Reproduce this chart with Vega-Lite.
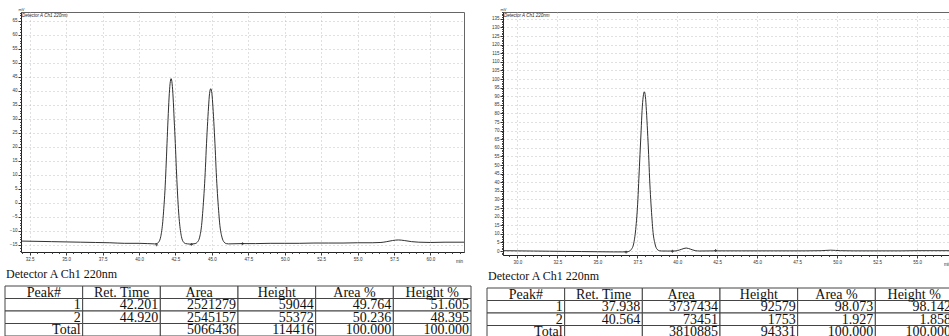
{
  "$schema": "https://vega.github.io/schema/vega-lite/v6.json",
  "background": "white",
  "padding": {"top": 6, "left": 4, "right": 0, "bottom": 0},
  "config": {
    "view": {"stroke": "#666", "strokeWidth": 1},
    "font": "Liberation Sans",
    "axis": {"labelFont": "Liberation Sans", "titleFont": "Liberation Sans"}
  },
  "spacing": 14,
  "hconcat": [
    {
      "spacing": 4,
      "vconcat": [
        {
          "width": 443,
          "height": 240,
          "layer": [
            {
              "data": {"values": [
                {"t":31.9,"mv":-13.6},{"t":33,"mv":-13.7},{"t":34,"mv":-13.8},{"t":35,"mv":-13.9},{"t":36,"mv":-14.0},{"t":37,"mv":-14.1},{"t":38,"mv":-14.2},{"t":39,"mv":-14.4},{"t":40,"mv":-14.4},{"t":40.6,"mv":-14.5},
                {"t":41.07,"mv":-14.6},{"t":41.21,"mv":-14.5},{"t":41.35,"mv":-13.95},{"t":41.49,"mv":-12.0},{"t":41.63,"mv":-6.6},{"t":41.70,"mv":-1.9},{"t":41.78,"mv":4.6},{"t":41.85,"mv":12.4},{"t":41.92,"mv":21.2},{"t":41.99,"mv":29.9},{"t":42.06,"mv":37.5},{"t":42.13,"mv":42.6},{"t":42.20,"mv":44.4},{"t":42.27,"mv":42.6},{"t":42.34,"mv":37.5},{"t":42.41,"mv":29.9},{"t":42.49,"mv":21.2},{"t":42.56,"mv":12.4},{"t":42.63,"mv":4.6},{"t":42.70,"mv":-1.9},{"t":42.77,"mv":-6.6},{"t":42.91,"mv":-12.0},{"t":43.05,"mv":-13.95},{"t":43.20,"mv":-14.5},{"t":43.34,"mv":-14.6},{"t":43.55,"mv":-14.7},
                {"t":43.70,"mv":-14.6},{"t":43.85,"mv":-14.5},{"t":44.00,"mv":-14.0},{"t":44.16,"mv":-12.2},{"t":44.31,"mv":-7.1},{"t":44.38,"mv":-2.6},{"t":44.46,"mv":3.4},{"t":44.54,"mv":10.8},{"t":44.61,"mv":19.0},{"t":44.69,"mv":27.2},{"t":44.77,"mv":34.3},{"t":44.84,"mv":39.1},{"t":44.92,"mv":40.8},{"t":45.00,"mv":39.1},{"t":45.07,"mv":34.3},{"t":45.15,"mv":27.2},{"t":45.23,"mv":19.0},{"t":45.30,"mv":10.8},{"t":45.38,"mv":3.4},{"t":45.46,"mv":-2.6},{"t":45.53,"mv":-7.1},{"t":45.69,"mv":-12.2},{"t":45.84,"mv":-14.0},{"t":45.99,"mv":-14.5},{"t":46.14,"mv":-14.6},
                {"t":47,"mv":-14.5},{"t":48,"mv":-14.5},{"t":49,"mv":-14.4},{"t":50,"mv":-14.4},{"t":51,"mv":-14.4},{"t":52,"mv":-14.3},{"t":53,"mv":-14.3},{"t":54,"mv":-14.3},{"t":55,"mv":-14.2},{"t":56,"mv":-14.2},{"t":56.6,"mv":-14.1},{"t":57.0,"mv":-13.8},{"t":57.4,"mv":-13.4},{"t":57.8,"mv":-13.2},{"t":58.2,"mv":-13.4},{"t":58.7,"mv":-13.8},{"t":59.2,"mv":-14.0},{"t":60,"mv":-14.1},{"t":61,"mv":-14.0},{"t":62.3,"mv":-14.0}
              ]},
              "mark": {"type": "line", "color": "#1a1a1a", "strokeWidth": 0.9, "interpolate": "monotone", "clip": true},
              "encoding": {
                "x": {"field": "t", "type": "quantitative", "scale": {"domain": [31.9, 62.3], "nice": false, "zero": false},
                  "axis": {"values": [32.5,35,37.5,40,42.5,45,47.5,50,52.5,55,57.5,60], "format": ".1f", "labelFontSize": 4.5, "labelColor": "#333", "tickSize": 3, "tickColor": "#333", "labelPadding": 1, "domainColor": "#222", "grid": true, "gridColor": "#b0b0b0", "gridDash": [1, 3], "gridWidth": 0.8, "title": "min", "titleFontSize": 4.5, "titleFontWeight": "normal", "titleX": 438, "titleY": 10, "titleBaseline": "alphabetic", "titleColor": "#333"}},
                "y": {"field": "mv", "type": "quantitative", "scale": {"domain": [-17.5, 68.2], "nice": false, "zero": false},
                  "axis": {"values": [-15,-10,-5,0,5,10,15,20,25,30,35,40,45,50,55,60,65], "format": "d", "labelFontSize": 4.5, "labelColor": "#333", "tickSize": 3, "tickColor": "#333", "labelPadding": 1, "domainColor": "#222", "grid": true, "gridColor": "#b0b0b0", "gridDash": [1, 3], "gridWidth": 0.8, "title": "mV", "titleAngle": 0, "titleFontSize": 4, "titleFontWeight": "normal", "titleAlign": "left", "titleBaseline": "bottom", "titleX": -3, "titleY": -1, "titleColor": "#333", "minExtent": 16}}
              }
            },
            {
              "data": {"values": [{"t":41.2,"mv":-14.9},{"t":43.6,"mv":-14.8},{"t":47.1,"mv":-14.5}]},
              "mark": {"type": "point", "shape": "cross", "size": 8, "filled": true, "color": "#222"},
              "encoding": {
                "x": {"field": "t", "type": "quantitative", "axis": {"orient": "bottom", "values": [32,32.5,33,33.5,34,34.5,35,35.5,36,36.5,37,37.5,38,38.5,39,39.5,40,40.5,41,41.5,42,42.5,43,43.5,44,44.5,45,45.5,46,46.5,47,47.5,48,48.5,49,49.5,50,50.5,51,51.5,52,52.5,53,53.5,54,54.5,55,55.5,56,56.5,57,57.5,58,58.5,59,59.5,60,60.5,61,61.5,62], "labels": false, "grid": false, "domain": false, "tickSize": 1.5, "tickColor": "#444", "title": null}},
                "y": {"field": "mv", "type": "quantitative", "axis": {"orient": "left", "values": [-17,-16,-15,-14,-13,-12,-11,-10,-9,-8,-7,-6,-5,-4,-3,-2,-1,0,1,2,3,4,5,6,7,8,9,10,11,12,13,14,15,16,17,18,19,20,21,22,23,24,25,26,27,28,29,30,31,32,33,34,35,36,37,38,39,40,41,42,43,44,45,46,47,48,49,50,51,52,53,54,55,56,57,58,59,60,61,62,63,64,65,66,67,68], "labels": false, "grid": false, "domain": false, "tickSize": 1.5, "tickColor": "#444", "title": null}}
              }
            },
            {
              "data": {"values": [{"label": "Detector A Ch1 220nm"}]},
              "mark": {"type": "text", "fontSize": 4.5, "fontStyle": "italic", "color": "#222", "align": "left", "baseline": "top", "dx": 1, "dy": 1},
              "encoding": {
                "x": {"datum": 31.9, "type": "quantitative", "axis": null},
                "y": {"datum": 68.2, "type": "quantitative", "axis": null},
                "text": {"field": "label"}
              }
            }
          ],
          "resolve": {"axis": {"x": "independent", "y": "independent"}}
        },
        {
          "width": 450,
          "height": 50,
          "view": {"stroke": null},
          "title": {"text": "Detector A Ch1 220nm", "anchor": "start", "frame": "group", "dx": -15, "font": "Liberation Serif", "fontSize": 12, "fontWeight": "normal", "offset": 5, "color": "#111"},
          "data": {"values": [
            {"row":"h","peak":"Peak#","rt":"Ret. Time","area":"Area","height":"Height","apct":"Area %","hpct":"Height %"},
            {"row":"1","peak":"1","rt":"42.201","area":"2521279","height":"59044","apct":"49.764","hpct":"51.605"},
            {"row":"2","peak":"2","rt":"44.920","area":"2545157","height":"55372","apct":"50.236","hpct":"48.395"},
            {"row":"t","peak":"Total","rt":"","area":"5066436","height":"114416","apct":"100.000","hpct":"100.000"}
          ]},
          "transform": [{"fold": ["peak","rt","area","height","apct","hpct"], "as": ["col","val"]}],
          "layer": [
            {
              "mark": {"type": "rect", "fill": "white", "stroke": "#444", "strokeWidth": 1},
              "encoding": {
                "x": {"field": "col", "type": "nominal", "scale": {"domain": ["peak","rt","area","height","apct","hpct"], "range": [-16, 450], "paddingInner": 0, "paddingOuter": 0}, "axis": null},
                "y": {"field": "row", "type": "nominal", "scale": {"domain": ["h","1","2","t"], "paddingInner": 0, "paddingOuter": 0}, "axis": null}
              }
            },
            {
              "transform": [{"filter": "datum.row == 'h'"}],
              "mark": {"type": "text", "font": "Liberation Serif", "fontSize": 14, "align": "center", "baseline": "alphabetic", "color": "#111", "dy": 4.6},
              "encoding": {
                "x": {"field": "col", "type": "nominal", "axis": null},
                "y": {"field": "row", "type": "nominal", "axis": null},
                "text": {"field": "val"}
              }
            },
            {
              "transform": [{"filter": "datum.row != 'h'"}],
              "mark": {"type": "text", "font": "Liberation Serif", "fontSize": 14, "align": "right", "baseline": "alphabetic", "color": "#111", "dx": -2, "dy": 4.6},
              "encoding": {
                "x": {"field": "col", "type": "nominal", "bandPosition": 1, "axis": null},
                "y": {"field": "row", "type": "nominal", "axis": null},
                "text": {"field": "val"}
              }
            }
          ]
        }
      ]
    },
    {
      "spacing": 3,
      "vconcat": [
        {
          "width": 450,
          "height": 243,
          "layer": [
            {
              "data": {"values": [
                {"t":29.1,"mv":0.2},{"t":30,"mv":0.1},{"t":31,"mv":0.0},{"t":32,"mv":-0.1},{"t":33,"mv":-0.2},{"t":34,"mv":-0.3},{"t":35,"mv":-0.4},{"t":36,"mv":-0.5},{"t":36.6,"mv":-0.5},{"t":36.87,"mv":-0.4},{"t":37.0,"mv":-0.1},{"t":37.13,"mv":1.0},{"t":37.27,"mv":4.1},{"t":37.40,"mv":12.5},{"t":37.47,"mv":20.0},{"t":37.54,"mv":30.1},{"t":37.60,"mv":42.4},{"t":37.67,"mv":56.2},{"t":37.74,"mv":69.9},{"t":37.80,"mv":81.7},{"t":37.87,"mv":89.7},{"t":37.94,"mv":92.6},{"t":38.01,"mv":89.7},{"t":38.07,"mv":81.7},{"t":38.14,"mv":69.9},{"t":38.21,"mv":56.2},{"t":38.27,"mv":42.4},{"t":38.34,"mv":30.1},{"t":38.41,"mv":20.0},{"t":38.47,"mv":12.5},{"t":38.61,"mv":4.1},{"t":38.74,"mv":1.0},{"t":38.88,"mv":0.2},{"t":39.01,"mv":0.03},{"t":39.4,"mv":0.0},{"t":39.73,"mv":0.0},{"t":40.0,"mv":0.24},{"t":40.28,"mv":1.06},{"t":40.56,"mv":1.75},{"t":40.84,"mv":1.06},{"t":41.12,"mv":0.24},{"t":41.4,"mv":0.02},{"t":42.4,"mv":0.1},{"t":43,"mv":0.1},{"t":44,"mv":0.1},{"t":45,"mv":0.1},{"t":46,"mv":0.1},{"t":47,"mv":0.1},{"t":48,"mv":0.1},{"t":49,"mv":0.2},{"t":49.6,"mv":0.5},{"t":50.2,"mv":0.2},{"t":51,"mv":0.1},{"t":52,"mv":0.1},{"t":53,"mv":0.1},{"t":54,"mv":0.1},{"t":55,"mv":0.2},{"t":56,"mv":0.2},{"t":57.25,"mv":0.2}
              ]},
              "mark": {"type": "line", "color": "#1a1a1a", "strokeWidth": 0.9, "interpolate": "monotone", "clip": true},
              "encoding": {
                "x": {"field": "t", "type": "quantitative", "scale": {"domain": [29.1, 57.25], "nice": false, "zero": false},
                  "axis": {"values": [30,32.5,35,37.5,40,42.5,45,47.5,50,52.5,55], "format": ".1f", "labelFontSize": 4.5, "labelColor": "#333", "tickSize": 3, "tickColor": "#333", "labelPadding": 1, "domainColor": "#222", "grid": true, "gridColor": "#b0b0b0", "gridDash": [1, 3], "gridWidth": 0.8, "title": "min", "titleFontSize": 4.5, "titleFontWeight": "normal", "titleX": 444, "titleY": 10, "titleBaseline": "alphabetic", "titleColor": "#333"}},
                "y": {"field": "mv", "type": "quantitative", "scale": {"domain": [-2.3, 139], "nice": false, "zero": false},
                  "axis": {"values": [0,5,10,15,20,25,30,35,40,45,50,55,60,65,70,75,80,85,90,95,100,105,110,115,120,125,130,135], "format": "d", "labelFontSize": 4.5, "labelColor": "#333", "tickSize": 3, "tickColor": "#333", "labelPadding": 1, "domainColor": "#222", "grid": true, "gridColor": "#b0b0b0", "gridDash": [1, 3], "gridWidth": 0.8, "title": "mV", "titleAngle": 0, "titleFontSize": 4, "titleFontWeight": "normal", "titleAlign": "left", "titleBaseline": "bottom", "titleX": -3, "titleY": -1, "titleColor": "#333", "minExtent": 16}}
              }
            },
            {
              "data": {"values": [{"t":36.8,"mv":-0.6},{"t":39.7,"mv":-0.1},{"t":42.4,"mv":0.3}]},
              "mark": {"type": "point", "shape": "cross", "size": 8, "filled": true, "color": "#222"},
              "encoding": {
                "x": {"field": "t", "type": "quantitative", "axis": {"orient": "bottom", "values": [29.5,30,30.5,31,31.5,32,32.5,33,33.5,34,34.5,35,35.5,36,36.5,37,37.5,38,38.5,39,39.5,40,40.5,41,41.5,42,42.5,43,43.5,44,44.5,45,45.5,46,46.5,47,47.5,48,48.5,49,49.5,50,50.5,51,51.5,52,52.5,53,53.5,54,54.5,55,55.5,56,56.5,57], "labels": false, "grid": false, "domain": false, "tickSize": 1.5, "tickColor": "#444", "title": null}},
                "y": {"field": "mv", "type": "quantitative", "axis": {"orient": "left", "values": [-2,-1,0,1,2,3,4,6,7,8,9,11,12,13,14,16,17,18,19,21,22,23,24,26,27,28,29,31,32,33,34,36,37,38,39,41,42,43,44,46,47,48,49,51,52,53,54,56,57,58,59,61,62,63,64,66,67,68,69,71,72,73,74,76,77,78,79,81,82,83,84,86,87,88,89,91,92,93,94,96,97,98,99,101,102,103,104,106,107,108,109,111,112,113,114,116,117,118,119,121,122,123,124,126,127,128,129,131,132,133,134,136,137,138,139], "labels": false, "grid": false, "domain": false, "tickSize": 1.5, "tickColor": "#444", "title": null}}
              }
            },
            {
              "data": {"values": [{"label": "Detector A Ch1 220nm"}]},
              "mark": {"type": "text", "fontSize": 4.5, "fontStyle": "italic", "color": "#222", "align": "left", "baseline": "top", "dx": 1, "dy": 1},
              "encoding": {
                "x": {"datum": 29.1, "type": "quantitative", "axis": null},
                "y": {"datum": 139, "type": "quantitative", "axis": null},
                "text": {"field": "label"}
              }
            }
          ],
          "resolve": {"axis": {"x": "independent", "y": "independent"}}
        },
        {
          "width": 450,
          "height": 50,
          "view": {"stroke": null},
          "title": {"text": "Detector A Ch1 220nm", "anchor": "start", "frame": "group", "dx": -15, "font": "Liberation Serif", "fontSize": 12, "fontWeight": "normal", "offset": 5, "color": "#111"},
          "data": {"values": [
            {"row":"h","peak":"Peak#","rt":"Ret. Time","area":"Area","height":"Height","apct":"Area %","hpct":"Height %"},
            {"row":"1","peak":"1","rt":"37.938","area":"3737434","height":"92579","apct":"98.073","hpct":"98.142"},
            {"row":"2","peak":"2","rt":"40.564","area":"73451","height":"1753","apct":"1.927","hpct":"1.858"},
            {"row":"t","peak":"Total","rt":"","area":"3810885","height":"94331","apct":"100.000","hpct":"100.000"}
          ]},
          "transform": [{"fold": ["peak","rt","area","height","apct","hpct"], "as": ["col","val"]}],
          "layer": [
            {
              "mark": {"type": "rect", "fill": "white", "stroke": "#444", "strokeWidth": 1},
              "encoding": {
                "x": {"field": "col", "type": "nominal", "scale": {"domain": ["peak","rt","area","height","apct","hpct"], "range": [-16, 450], "paddingInner": 0, "paddingOuter": 0}, "axis": null},
                "y": {"field": "row", "type": "nominal", "scale": {"domain": ["h","1","2","t"], "paddingInner": 0, "paddingOuter": 0}, "axis": null}
              }
            },
            {
              "transform": [{"filter": "datum.row == 'h'"}],
              "mark": {"type": "text", "font": "Liberation Serif", "fontSize": 14, "align": "center", "baseline": "alphabetic", "color": "#111", "dy": 4.6},
              "encoding": {
                "x": {"field": "col", "type": "nominal", "axis": null},
                "y": {"field": "row", "type": "nominal", "axis": null},
                "text": {"field": "val"}
              }
            },
            {
              "transform": [{"filter": "datum.row != 'h'"}],
              "mark": {"type": "text", "font": "Liberation Serif", "fontSize": 14, "align": "right", "baseline": "alphabetic", "color": "#111", "dx": -2, "dy": 4.6},
              "encoding": {
                "x": {"field": "col", "type": "nominal", "bandPosition": 1, "axis": null},
                "y": {"field": "row", "type": "nominal", "axis": null},
                "text": {"field": "val"}
              }
            }
          ]
        }
      ]
    }
  ]
}
